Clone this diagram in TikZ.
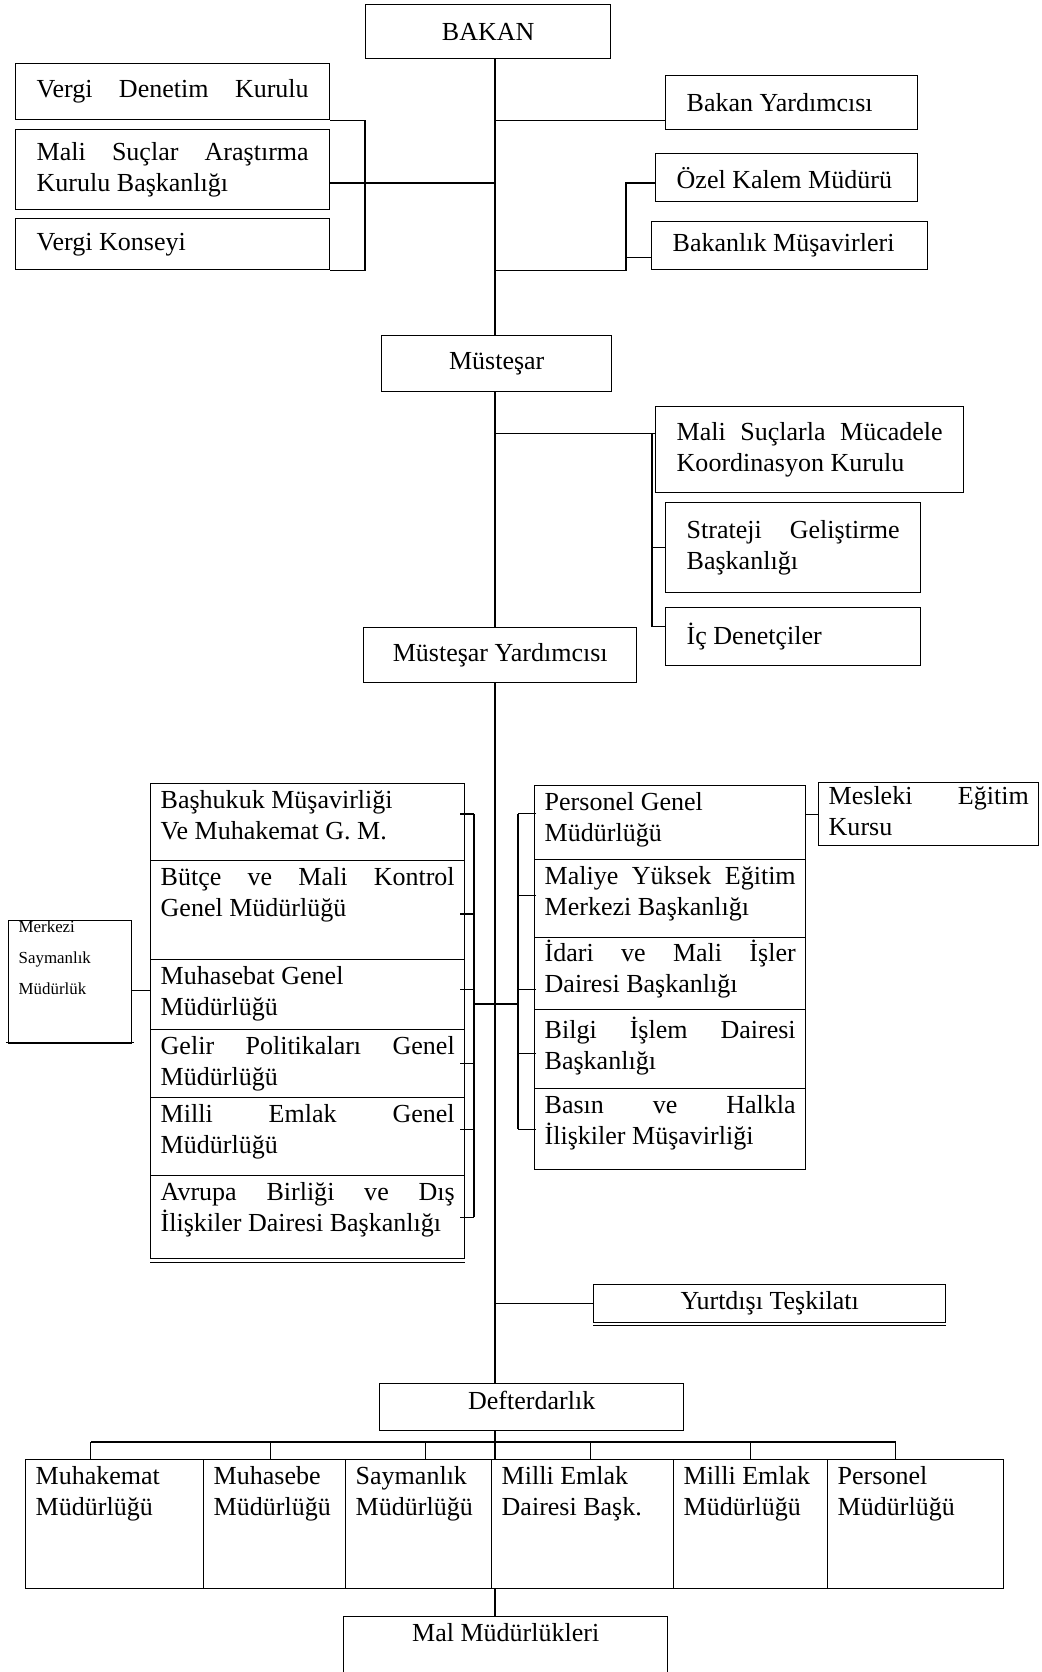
\documentclass[tikz,border=0pt]{standalone}
\usepackage{fontspec}
\setmainfont{Liberation Serif}
\newlength\pxu
\setlength\pxu{0.025cm}
% text helpers
\newcommand{\spread}[1]{\makebox[\linewidth][s]{#1}}
\newcommand{\cell}[4][7]{\parbox[t][#3\pxu][t]{#2\pxu}{\raggedright\vspace*{#1\pxu}#4}}
\newcommand{\mcell}[3]{\parbox[t][#2\pxu][c]{#1\pxu}{\raggedright #3}}
\begin{document}
\begin{tikzpicture}[x=0.025cm,y=-0.025cm,line width=1pt,
  font=\fontsize{18.5}{22}\selectfont,
  unitbox/.style={draw,anchor=north west,inner xsep=0.25cm,inner ysep=0pt},
  widebox/.style={unitbox,inner xsep=0.525cm}]
 \useasboundingbox (0,0) rectangle (1041,1672);
 \coordinate (spine) at (495,0);

 % top level
 \node[unitbox] (bakan) at (365,4) {\mcell{225}{54}{\centering BAKAN}};
 \node[widebox] (vdk) at (15,63) {\mcell{272}{56}{\spread{Vergi Denetim Kurulu}}};
 \node[widebox] (msak) at (15,129) {\mcell{272}{80}{\spread{Mali Suçlar Araştırma}\\Kurulu Başkanlığı}};
 \node[widebox] (vk) at (15,218) {\mcell{272}{51}{Vergi Konseyi}};
 \node[widebox] (by) at (665,75) {\mcell{210}{54}{Bakan Yardımcısı}};
 \node[widebox] (ozk) at (655,153) {\mcell{220}{48}{Özel Kalem Müdürü}};
 \node[widebox] (bm) at (651,221) {\mcell{234}{48}{Bakanlık Müşavirleri}};
 \node[unitbox] (mus) at (381,335) {\mcell{210}{56}{\centering Müsteşar}};
 \node[widebox] (mscm) at (655,406) {\mcell{266}{86}{\spread{Mali Suçlarla Mücadele}\\Koordinasyon Kurulu}};
 \node[widebox] (sgb) at (665,502) {\mcell{213}{90}{\spread{Strateji Geliştirme}\\Başkanlığı}};
 \node[widebox] (icd) at (665,607) {\mcell{213}{58}{İç Denetçiler}};
 \node[unitbox] (my) at (363,627) {\mcell{253}{55}{\centering Müsteşar Yardımcısı}};

 % left stack
 \node[unitbox] (bhm) at (150,783) {\cell{294}{77}{Başhukuk Müşavirliği\\Ve Muhakemat G. M.}};
 \node[unitbox] (bmk) at (150,860) {\cell{294}{99}{\spread{Bütçe ve Mali Kontrol}\\Genel Müdürlüğü}};
 \node[unitbox] (mgm) at (150,959) {\cell{294}{70}{Muhasebat Genel\\Müdürlüğü}};
 \node[unitbox] (gpg) at (150,1029) {\cell{294}{68}{\spread{Gelir Politikaları Genel}\\Müdürlüğü}};
 \node[unitbox] (meg) at (150,1097) {\cell{294}{78}{\spread{Milli Emlak Genel}\\Müdürlüğü}};
 \node[unitbox] (abd) at (150,1175) {\cell{294}{83}{\spread{Avrupa Birliği ve Dış}\\İlişkiler Dairesi Başkanlığı}};
 \node[unitbox,font=\fontsize{12}{22}\selectfont] (msm) at (8,920) {\cell[0]{103}{123}{Merkezi\\Saymanlık\\Müdürlük}};

 % right stack
 \node[unitbox] (pgm) at (534,785) {\cell{251}{74}{Personel Genel\\Müdürlüğü}};
 \node[unitbox] (myem) at (534,859) {\cell{251}{78}{\spread{Maliye Yüksek Eğitim}\\Merkezi Başkanlığı}};
 \node[unitbox] (imi) at (534,937) {\cell[2]{251}{72}{\spread{İdari ve Mali İşler}\\Dairesi Başkanlığı}};
 \node[unitbox] (bid) at (534,1009) {\cell{251}{79}{\spread{Bilgi İşlem Dairesi}\\Başkanlığı}};
 \node[unitbox] (bhi) at (534,1088) {\cell{251}{81}{\spread{Basın ve Halkla}\\İlişkiler Müşavirliği}};
 \node[unitbox] (mek) at (818,782) {\cell[4]{200}{63}{\spread{Mesleki Eğitim}\\Kursu}};

 % lower part
 \node[unitbox] (yt) at (593,1284) {\mcell{332}{38}{\centering Yurtdışı Teşkilatı}};
 \node[unitbox] (def) at (379,1383) {\cell{284}{47}{\centering Defterdarlık}};
 \node[unitbox] (mhm) at (25,1459) {\cell{158}{129}{Muhakemat\\Müdürlüğü}};
 \node[unitbox] (mhs) at (203,1459) {\cell{122}{129}{Muhasebe\\Müdürlüğü}};
 \node[unitbox] (smd) at (345,1459) {\cell{126}{129}{Saymanlık\\Müdürlüğü}};
 \node[unitbox] (med) at (491,1459) {\cell{162}{129}{Milli Emlak\\Dairesi Başk.}};
 \node[unitbox] (mem) at (673,1459) {\cell{134}{129}{Milli Emlak\\Müdürlüğü}};
 \node[unitbox] (pmd) at (827,1459) {\cell{156}{129}{Personel\\Müdürlüğü}};
 \node[unitbox] (mal) at (343,1616) {\cell{304}{100}{\centering Mal Müdürlükleri}};

 % spine
 \draw (spine |- bakan.south) -- (spine |- mus.north);
 \draw (spine |- mus.south) -- (spine |- my.north);
 \draw (spine |- my.south) -- (spine |- def.north);
 \draw (spine |- def.south) -- (spine |- med.north);
 \draw (spine |- med.south) -- (spine |- mal.north);

 % around the minister
 \coordinate (lbr) at (365,183);
 \draw (vdk.south east) -| (lbr) |- (vk.south east);
 \draw (msak.east |- lbr) -- (spine |- lbr);
 \coordinate (byin) at ([yshift=0.25cm]by.south west);
 \draw (spine |- byin) -- (byin);
 \coordinate (rbr) at (626,183);
 \coordinate (bmin) at ([yshift=-0.3cm]bm.west);
 \draw (spine |- bm.south) -| (rbr) -- (ozk.west |- rbr);
 \draw (rbr |- bmin) -- (bmin);

 % around the undersecretary
 \coordinate (mbr) at (652,0);
 \coordinate (mcin) at ([yshift=0.4cm]mscm.west);
 \coordinate (icin) at ([yshift=0.25cm]icd.west);
 \draw (spine |- mcin) -- (mcin);
 \draw (mbr |- mcin) |- (icin);
 \draw (mbr |- sgb.west) -- (sgb.west);

 % general directorates
 \coordinate (lbk) at (474,0);
 \coordinate (rbk) at (518,0);
 \coordinate (hub) at (495,1004);
 \foreach \c/\s in {bhm/0.21,bmk/-0.09,mgm/0.125,gpg/0,meg/0.175,abd/0} {
   \coordinate (in\c) at ([yshift=\s cm]\c.east);
   \draw ([xshift=-0.125cm]in\c) -- (lbk |- in\c);
 }
 \draw (lbk |- inbhm) -- (lbk |- inabd);
 \foreach \c/\s in {pgm/0.225,myem/0.075,imi/-0.4,bid/-0.11,bhi/0} {
   \coordinate (in\c) at ([yshift=\s cm]\c.west);
   \draw ([xshift=0.05cm]in\c) -- (rbk |- in\c);
 }
 \draw (rbk |- inpgm) -- (rbk |- inbhi);
 \draw (lbk |- hub) -- (rbk |- hub);
 \coordinate (mkin) at ([yshift=-0.2cm]msm.east);
 \draw (mkin) -- (mgm.west |- mkin);
 \draw (pgm.east |- mek.west) -- (mek.west);
 \draw (spine |- yt.west) -- (yt.west);

 % provincial units
 \coordinate (bus) at (495,1442);
 \foreach \c/\s in {mhm/-0.6,mhs/-0.1,smd/0.175,med/0.2,mem/0,pmd/-0.5} {
   \coordinate (top\c) at ([xshift=\s cm]\c.north);
   \draw (top\c) -- (top\c |- bus);
 }
 \draw (topmhm |- bus) -- (toppmd |- bus);

 % doubled bottom edges
 \draw ([yshift=-0.075cm]abd.south west) -- ([yshift=-0.075cm]abd.south east);
 \draw ([shift={(-0.05cm,0.05cm)}]msm.south west) -- ([shift={(0.05cm,0.05cm)}]msm.south east);
 \draw ([yshift=-0.05cm]yt.south west) -- ([yshift=-0.05cm]yt.south east);
\end{tikzpicture}
\end{document}
